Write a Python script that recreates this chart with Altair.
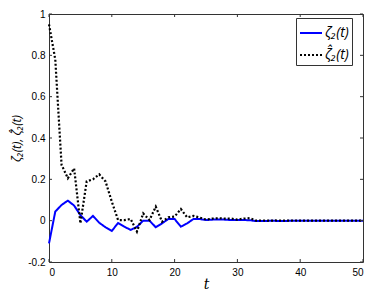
import altair as alt
import pandas as pd

t_vals = list(range(0, 51))
zeta = [-0.11, 0.044, 0.076, 0.097, 0.073, 0.027, -0.005, 0.023, -0.01, -0.032,
        -0.05, -0.011, -0.029, -0.045, -0.03, 0.0, 0.0, -0.032, -0.013, 0.008,
        0.008, -0.029, -0.013, 0.008, 0.008, 0.003, 0.005, 0.006, 0.005, 0.003,
        0.003, 0.003, 0.002, -0.002, -0.002, -0.001, -0.001, -0.002, -0.001, -0.001,
        0.0, 0.0, 0.0, 0.0, 0.0, 0.0, 0.0, 0.0, 0.0, 0.0, 0.0]
zeta_hat = [0.95, 0.78, 0.27, 0.205, 0.253, -0.013, 0.19, 0.2, 0.224, 0.19,
            0.092, 0.003, 0.003, 0.008, -0.053, 0.035, 0.003, 0.068, -0.005, 0.016,
            0.02, 0.056, 0.016, 0.023, 0.015, 0.005, 0.01, 0.012, 0.01, 0.01,
            0.005, 0.01, 0.012, 0.0, 0.001, 0.0, 0.001, 0.0, 0.0, 0.001,
            0.0, 0.0, 0.0, 0.0, 0.0, 0.0, 0.0, 0.0, 0.0, 0.0, 0.0]
series_names = ["\u03b6\u2082(t)", "\u03b6\u0302\u2082(t)"]
y_title = "\u03b6\u2082(t), \u03b6\u0302\u2082(t)"
x_ticks = [0, 10, 20, 30, 40, 50]
y_ticks = [-0.2, 0, 0.2, 0.4, 0.6, 0.8, 1]

df = pd.DataFrame({
    "t": t_vals * 2,
    "v": zeta + zeta_hat,
    "s": [series_names[0]] * len(t_vals) + [series_names[1]] * len(t_vals),
})

W, H = 314, 248
MATH = "Open Sans"
xs = alt.Scale(domain=[0, 50], nice=False)
ys = alt.Scale(domain=[-0.2, 1], nice=False)
color = alt.Color("s:N", scale=alt.Scale(domain=series_names, range=["#0000ff", "#000000"]),
                  legend=alt.Legend(title=None, orient="none", legendX=247, legendY=4,
                                    symbolType="stroke", symbolSize=22 * 22, symbolStrokeWidth=2,
                                    labelFont=MATH, labelFontStyle="italic",
                                    labelFontSize=14, labelColor="black",
                                    strokeColor="#333333", fillColor="white",
                                    padding=3, rowPadding=3, labelOffset=2))
dash = alt.StrokeDash("s:N", scale=alt.Scale(domain=series_names, range=[[1, 0], [2, 2]]), legend=None)

base = alt.Chart(df)
line1 = base.transform_filter(alt.datum.s == series_names[0]).mark_line(strokeWidth=2).encode(
    x=alt.X("t:Q", scale=xs, axis=alt.Axis(values=x_ticks, title="t", titleFont="DejaVu Serif",
                                           titleFontStyle="italic", titleFontWeight="normal",
                                           titleFontSize=14, titlePadding=0,
                                           labelFont="Liberation Sans", labelFontSize=10,
                                           tickSize=0, labelPadding=5, grid=False, domain=False)),
    y=alt.Y("v:Q", scale=ys, axis=alt.Axis(values=y_ticks, title=y_title,
                                           titleFont=MATH, titleFontStyle="italic",
                                           titleFontWeight="normal", titleFontSize=12,
                                           titlePadding=4,
                                           labelFont="Liberation Sans", labelFontSize=10,
                                           labelExpr="replace(format(datum.value, '~g'), '−', '-')",
                                           tickSize=0, labelPadding=4, grid=False, domain=False)),
    color=color, strokeDash=dash)
line2 = base.transform_filter(alt.datum.s == series_names[1]).mark_line(strokeWidth=2.2).encode(
    x=alt.X("t:Q", scale=xs), y=alt.Y("v:Q", scale=ys), color=color, strokeDash=dash)

xt = pd.DataFrame({"xt": x_ticks})
yt = pd.DataFrame({"yt": y_ticks})
tick_style = dict(color="#333333", strokeWidth=1)
xb = alt.Chart(xt).mark_rule(**tick_style).encode(x=alt.X("xt:Q", scale=xs), y=alt.value(H), y2=alt.value(H - 3))
xtp = alt.Chart(xt).mark_rule(**tick_style).encode(x=alt.X("xt:Q", scale=xs), y=alt.value(0), y2=alt.value(3))
yl = alt.Chart(yt).mark_rule(**tick_style).encode(y=alt.Y("yt:Q", scale=ys), x=alt.value(0), x2=alt.value(3))
yr = alt.Chart(yt).mark_rule(**tick_style).encode(y=alt.Y("yt:Q", scale=ys), x=alt.value(W), x2=alt.value(W - 3))

chart = alt.layer(line1, line2, xb, xtp, yl, yr).properties(
    width=W, height=H, autosize="none",
    padding={"left": 41, "top": 6, "right": 12, "bottom": 32},
).configure_view(stroke="#333333", strokeWidth=1).configure_axis(labelColor="black", titleColor="black")

chart.save("out.html", embed_options={"renderer": "svg", "actions": False})
